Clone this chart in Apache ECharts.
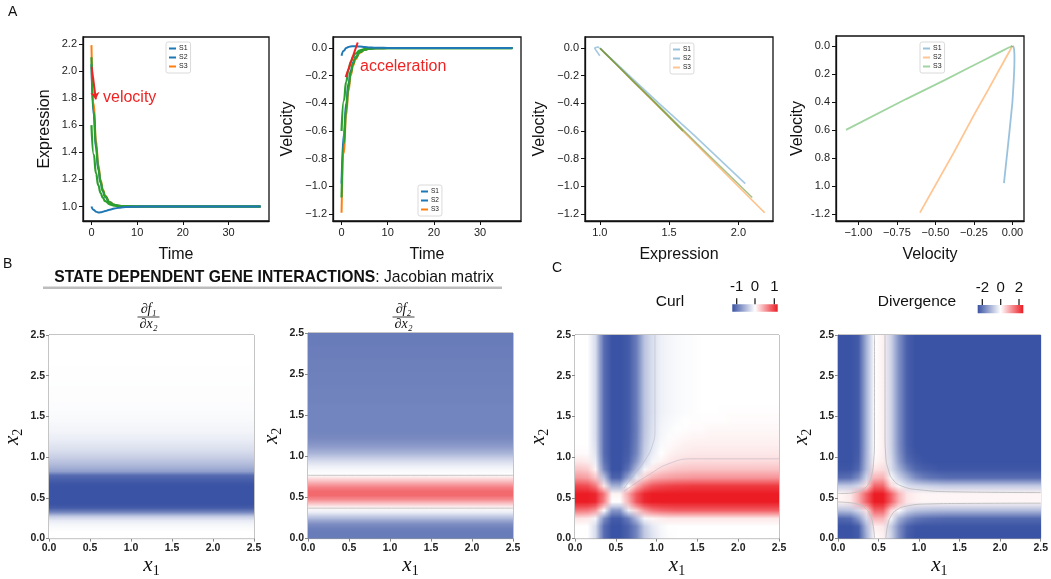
<!DOCTYPE html>
<html>
<head>
<meta charset="utf-8">
<script src="https://cdn.jsdelivr.net/npm/echarts@6/dist/echarts.min.js"></script>
<style>
  html, body { margin: 0; padding: 0; background: #fff; }
  #chart { width: 1051px; height: 579px; }
</style>
</head>
<body>
<div id="chart"></div>
<script>
// ---- panel A : trajectories ----
const legendNames = ['S1', 'S2', 'S3']
const timePts = [0, 0.5, 1, 1.5, 2, 2.5, 3, 4, 5, 6, 7, 8, 10, 12, 15, 20, 25, 30, 37]

const exprS1 = [1.0, 0.975, 0.962, 0.956, 0.957, 0.961, 0.966, 0.976, 0.985, 0.991, 0.995, 0.997, 0.999, 1.0, 1.0, 1.0, 1.0, 1.0, 1.0]
const exprS2 = [2.05, 1.67, 1.427, 1.272, 1.174, 1.111, 1.07, 1.029, 1.012, 1.005, 1.002, 1.001, 1.0, 1.0, 1.0, 1.0, 1.0, 1.0, 1.0]
const exprS3 = [2.19, 1.76, 1.484, 1.309, 1.197, 1.126, 1.08, 1.033, 1.013, 1.005, 1.002, 1.001, 1.0, 1.0, 1.0, 1.0, 1.0, 1.0, 1.0]
const exprG1 = [2.1, 1.7, 1.447, 1.285, 1.182, 1.116, 1.074, 1.03, 1.012, 1.005, 1.002, 1.001, 1.0, 1.0, 1.0, 1.0, 1.0, 1.0, 1.0]
const exprG2 = [1.6, 1.383, 1.244, 1.156, 1.099, 1.063, 1.04, 1.016, 1.007, 1.003, 1.001, 1.0, 1.0, 1.0, 1.0, 1.0, 1.0, 1.0, 1.0]

const velS1 = [-0.055, -0.02, 0.0, 0.008, 0.012, 0.013, 0.013, 0.011, 0.008, 0.005, 0.003, 0.002, 0.001, 0, 0, 0, 0, 0, 0]
const velS2 = [-0.98, -0.62, -0.4, -0.255, -0.163, -0.104, -0.066, -0.027, -0.011, -0.004, -0.002, -0.001, 0, 0, 0, 0, 0, 0, 0]
const velS3 = [-1.19, -0.76, -0.484, -0.309, -0.197, -0.126, -0.08, -0.033, -0.013, -0.005, -0.002, -0.001, 0, 0, 0, 0, 0, 0, 0]
const velG1 = [-1.08, -0.69, -0.44, -0.28, -0.18, -0.115, -0.073, -0.03, -0.012, -0.005, -0.002, -0.001, 0, 0, 0, 0, 0, 0, 0]
const velG2 = [-0.6, -0.38, -0.245, -0.155, -0.099, -0.063, -0.04, -0.016, -0.007, -0.003, -0.001, 0, 0, 0, 0, 0, 0, 0, 0]

const velocityArrow = [[0.05, 2.03], [0.95, 1.79]]
const accelLine = [[0.9, -0.21], [3.5, 0.04]]

const timeTicks = [0, 10, 20, 30]
const exprTicks = [1.0, 1.2, 1.4, 1.6, 1.8, 2.0, 2.2]
const phaseExprTicks = [1.0, 1.5, 2.0]
const velTicks = [-1.2, -1.0, -0.8, -0.6, -0.4, -0.2, 0.0]
const velVelXTicks = [-1.0, -0.75, -0.5, -0.25, 0.0]
const velVelYLabels = ['-1.2', '1.0', '0.8', '0.6', '0.4', '0.2', '0.0']

// ---- panel B : Jacobian entries (profiles along x2, from 0.025 up by 0.05) ----
const jacF1X2 = [0, 0, -0.02, -0.05, -0.12, -0.32, -0.7, -0.93, -1, -1,
  -1, -1, -1, -0.98, -0.93, -0.86, -0.56, -0.46, -0.38, -0.31,
  -0.25, -0.2, -0.16, -0.13, -0.1, -0.08, -0.06, -0.05, -0.04, -0.03,
  -0.025, -0.02, -0.015, -0.01, -0.01, -0.01, -0.01, -0.008, -0.006, -0.005,
  -0.004, -0.003, -0.002, -0.002, -0.001, -0.001, 0, 0, 0, 0]
const jacF2X2 = [-0.76, -0.76, -0.74, -0.66, -0.5, -0.28, -0.08, 0.03, 0.25, 0.5,
  0.66, 0.66, 0.55, 0.38, 0.18, 0.0, -0.03, -0.08, -0.17, -0.28,
  -0.4, -0.5, -0.58, -0.64, -0.68, -0.7, -0.71, -0.71, -0.71, -0.71,
  -0.71, -0.71, -0.71, -0.72, -0.72, -0.72, -0.72, -0.73, -0.73, -0.73,
  -0.73, -0.74, -0.74, -0.74, -0.75, -0.75, -0.75, -0.76, -0.76, -0.76]
const jacF2X2Contours = [[[0, 0.77], [2.5, 0.77]], [[0, 0.37], [2.5, 0.37]]]

// ---- panel C : curl and divergence, rows from x2 = 2.45 (top) to 0.05, columns x1 = 0.05 .. 2.45 ----
const curlRows = [
  [0, 0, -0.2, -0.85, -1, -1, -0.95, -0.75, -0.35, -0.18, -0.08, -0.05, -0.03, -0.02, -0.01, 0, 0, 0, 0, 0, 0, 0, 0, 0, 0],
  [0, 0, -0.2, -0.85, -1, -1, -0.95, -0.75, -0.35, -0.18, -0.08, -0.05, -0.03, -0.02, -0.01, 0, 0, 0, 0, 0, 0, 0, 0, 0, 0],
  [0, 0, -0.2, -0.85, -1, -1, -0.95, -0.75, -0.35, -0.18, -0.08, -0.05, -0.03, -0.02, -0.01, 0, 0, 0, 0, 0, 0, 0, 0, 0, 0],
  [0, 0, -0.2, -0.85, -1, -1, -0.95, -0.75, -0.35, -0.18, -0.08, -0.05, -0.03, -0.02, -0.01, 0, 0, 0, 0, 0, 0, 0, 0, 0, 0],
  [0, 0, -0.2, -0.85, -1, -1, -0.95, -0.75, -0.35, -0.18, -0.08, -0.05, -0.03, -0.02, -0.01, 0, 0, 0, 0, 0, 0, 0, 0, 0, 0],
  [0, 0, -0.2, -0.85, -1, -1, -0.95, -0.75, -0.35, -0.18, -0.08, -0.05, -0.03, -0.02, -0.01, 0, 0, 0, 0, 0, 0, 0, 0, 0, 0],
  [0, 0, -0.2, -0.85, -1, -1, -0.95, -0.75, -0.35, -0.18, -0.08, -0.05, -0.03, -0.02, -0.01, 0, 0, 0, 0, 0, 0, 0, 0, 0, 0],
  [0, 0, -0.2, -0.85, -1, -1, -0.95, -0.75, -0.35, -0.18, -0.08, -0.05, -0.03, -0.02, -0.01, 0, 0, 0, 0, 0, 0, 0, 0, 0, 0],
  [0, 0, -0.2, -0.85, -1, -1, -0.95, -0.75, -0.35, -0.18, -0.08, -0.05, -0.03, -0.02, -0.01, 0, 0, 0, 0, 0, 0, 0, 0, 0, 0],
  [0, 0, -0.2, -0.85, -1, -1, -0.95, -0.75, -0.35, -0.18, -0.08, -0.05, -0.03, -0.02, -0.01, 0, 0, 0, 0.01, 0.01, 0.01, 0.01, 0.01, 0.01, 0.01],
  [0, 0, -0.2, -0.85, -1, -1, -0.95, -0.75, -0.35, -0.17, -0.07, -0.04, -0.02, 0, 0.01, 0.01, 0.01, 0.01, 0.01, 0.02, 0.02, 0.02, 0.02, 0.02, 0.02],
  [0, 0, -0.2, -0.85, -1, -1, -0.95, -0.75, -0.34, -0.16, -0.06, -0.03, 0, 0.01, 0.02, 0.02, 0.03, 0.03, 0.03, 0.03, 0.03, 0.03, 0.03, 0.03, 0.03],
  [0, 0, -0.2, -0.85, -1, -1, -0.95, -0.74, -0.33, -0.15, -0.05, -0.01, 0.02, 0.03, 0.04, 0.04, 0.05, 0.05, 0.05, 0.05, 0.05, 0.05, 0.05, 0.05, 0.05],
  [0, 0, -0.18, -0.85, -1, -1, -0.94, -0.72, -0.31, -0.13, -0.03, 0.02, 0.04, 0.06, 0.07, 0.07, 0.07, 0.07, 0.07, 0.07, 0.07, 0.07, 0.07, 0.07, 0.07],
  [0.02, 0.02, -0.15, -0.85, -1, -1, -0.93, -0.7, -0.28, -0.1, 0, 0.05, 0.08, 0.09, 0.1, 0.1, 0.1, 0.1, 0.1, 0.1, 0.1, 0.1, 0.1, 0.1, 0.1],
  [0.1, 0.08, -0.1, -0.8, -1, -1, -0.9, -0.6, -0.22, -0.04, 0.05, 0.1, 0.13, 0.15, 0.16, 0.16, 0.16, 0.16, 0.16, 0.16, 0.16, 0.16, 0.16, 0.16, 0.16],
  [0.25, 0.22, 0.05, -0.7, -1, -1, -0.8, -0.4, -0.05, 0.1, 0.18, 0.22, 0.25, 0.26, 0.27, 0.27, 0.27, 0.27, 0.27, 0.27, 0.27, 0.27, 0.27, 0.27, 0.27],
  [0.45, 0.42, 0.25, -0.35, -0.9, -0.9, -0.5, -0.12, 0.2, 0.35, 0.4, 0.43, 0.45, 0.46, 0.47, 0.47, 0.47, 0.47, 0.47, 0.47, 0.47, 0.47, 0.47, 0.47, 0.47],
  [0.8, 0.78, 0.6, 0.1, -0.45, -0.45, 0, 0.35, 0.6, 0.75, 0.8, 0.83, 0.85, 0.86, 0.87, 0.87, 0.87, 0.87, 0.87, 0.87, 0.87, 0.87, 0.87, 0.87, 0.87],
  [1, 1, 0.95, 0.6, 0.05, 0.05, 0.4, 0.75, 0.95, 1, 1, 1, 1, 1, 1, 1, 1, 1, 1, 1, 1, 1, 1, 1, 1],
  [1, 1, 0.95, 0.55, 0, 0, 0.35, 0.75, 0.95, 1, 1, 1, 1, 1, 1, 1, 1, 1, 1, 1, 1, 1, 1, 1, 1],
  [0.6, 0.58, 0.45, 0, -0.6, -0.6, -0.1, 0.2, 0.45, 0.6, 0.65, 0.68, 0.7, 0.7, 0.7, 0.7, 0.7, 0.7, 0.7, 0.7, 0.7, 0.7, 0.7, 0.7, 0.7],
  [0.12, 0.1, -0.05, -0.65, -0.95, -0.95, -0.75, -0.4, -0.05, 0.05, 0.08, 0.1, 0.1, 0.1, 0.1, 0.1, 0.1, 0.1, 0.1, 0.1, 0.1, 0.1, 0.1, 0.1, 0.1],
  [0, 0, -0.2, -0.85, -1, -1, -0.9, -0.7, -0.3, -0.12, -0.04, 0, 0, 0, 0, 0, 0, 0, 0, 0, 0, 0, 0, 0, 0],
  [0, 0, -0.2, -0.85, -1, -1, -0.9, -0.7, -0.32, -0.15, -0.05, -0.01, 0, 0, 0, 0, 0, 0, 0, 0, 0, 0, 0, 0, 0]
]
const divRows = [
  [-2, -2, -1.9, -0.9, 0, 0.12, -0.5, -1.3, -1.85, -2, -2, -2, -2, -2, -2, -2, -2, -2, -2, -2, -2, -2, -2, -2, -2],
  [-2, -2, -1.9, -0.9, 0, 0.12, -0.5, -1.3, -1.85, -2, -2, -2, -2, -2, -2, -2, -2, -2, -2, -2, -2, -2, -2, -2, -2],
  [-2, -2, -1.9, -0.9, 0, 0.12, -0.5, -1.3, -1.85, -2, -2, -2, -2, -2, -2, -2, -2, -2, -2, -2, -2, -2, -2, -2, -2],
  [-2, -2, -1.9, -0.9, 0, 0.12, -0.5, -1.3, -1.85, -2, -2, -2, -2, -2, -2, -2, -2, -2, -2, -2, -2, -2, -2, -2, -2],
  [-2, -2, -1.9, -0.9, 0, 0.12, -0.5, -1.3, -1.85, -2, -2, -2, -2, -2, -2, -2, -2, -2, -2, -2, -2, -2, -2, -2, -2],
  [-2, -2, -1.9, -0.9, 0, 0.12, -0.5, -1.3, -1.85, -2, -2, -2, -2, -2, -2, -2, -2, -2, -2, -2, -2, -2, -2, -2, -2],
  [-2, -2, -1.9, -0.9, 0, 0.12, -0.5, -1.3, -1.85, -2, -2, -2, -2, -2, -2, -2, -2, -2, -2, -2, -2, -2, -2, -2, -2],
  [-2, -2, -1.9, -0.9, 0, 0.12, -0.5, -1.3, -1.85, -2, -2, -2, -2, -2, -2, -2, -2, -2, -2, -2, -2, -2, -2, -2, -2],
  [-2, -2, -1.9, -0.9, 0, 0.12, -0.5, -1.3, -1.85, -2, -2, -2, -2, -2, -2, -2, -2, -2, -2, -2, -2, -2, -2, -2, -2],
  [-2, -2, -1.9, -0.9, 0, 0.12, -0.5, -1.3, -1.85, -2, -2, -2, -2, -2, -2, -2, -2, -2, -2, -2, -2, -2, -2, -2, -2],
  [-2, -2, -1.9, -0.9, 0, 0.12, -0.5, -1.3, -1.85, -2, -2, -2, -2, -2, -2, -2, -2, -2, -2, -2, -2, -2, -2, -2, -2],
  [-2, -2, -1.9, -0.9, 0, 0.12, -0.5, -1.3, -1.85, -2, -2, -2, -2, -2, -2, -2, -2, -2, -2, -2, -2, -2, -2, -2, -2],
  [-2, -2, -1.9, -0.9, 0, 0.12, -0.5, -1.3, -1.85, -2, -2, -2, -2, -2, -2, -2, -2, -2, -2, -2, -2, -2, -2, -2, -2],
  [-2, -2, -1.9, -0.9, 0, 0.12, -0.5, -1.3, -1.85, -2, -2, -2, -2, -2, -2, -2, -2, -2, -2, -2, -2, -2, -2, -2, -2],
  [-2, -2, -1.88, -0.88, 0.02, 0.14, -0.47, -1.25, -1.8, -1.97, -2, -2, -2, -2, -2, -2, -2, -2, -2, -2, -2, -2, -2, -2, -2],
  [-2, -2, -1.85, -0.85, 0.07, 0.17, -0.4, -1.15, -1.7, -1.9, -1.97, -2, -2, -2, -2, -2, -2, -2, -2, -2, -2, -2, -2, -2, -2],
  [-1.95, -1.95, -1.75, -0.8, 0.25, 0.32, -0.35, -0.9, -1.4, -1.75, -1.85, -1.9, -1.95, -1.95, -1.95, -1.95, -1.95, -1.95, -1.95, -1.95, -1.95, -1.95, -1.95, -1.95, -1.95],
  [-1.7, -1.65, -1.3, -0.5, 0.65, 0.7, -0.05, -0.5, -0.9, -1.3, -1.5, -1.6, -1.65, -1.7, -1.7, -1.7, -1.7, -1.7, -1.7, -1.7, -1.7, -1.7, -1.7, -1.7, -1.7],
  [-0.6, -0.6, -0.45, 0.3, 1.35, 1.35, 0.35, -0.05, -0.35, -0.45, -0.5, -0.55, -0.58, -0.6, -0.6, -0.6, -0.6, -0.6, -0.6, -0.6, -0.6, -0.6, -0.6, -0.6, -0.6],
  [0.1, 0.2, 0.7, 1.4, 2, 2, 1.4, 0.65, 0.22, 0.12, 0.08, 0.08, 0.08, 0.08, 0.08, 0.08, 0.08, 0.08, 0.08, 0.08, 0.08, 0.08, 0.08, 0.08, 0.08],
  [0.1, 0.2, 0.7, 1.4, 2, 2, 1.4, 0.65, 0.22, 0.12, 0.08, 0.08, 0.08, 0.08, 0.08, 0.08, 0.08, 0.08, 0.08, 0.08, 0.08, 0.08, 0.08, 0.08, 0.08],
  [-0.75, -0.7, -0.45, 0.3, 1.35, 1.35, 0.35, -0.05, -0.5, -0.7, -0.75, -0.78, -0.8, -0.8, -0.8, -0.8, -0.8, -0.8, -0.8, -0.8, -0.8, -0.8, -0.8, -0.8, -0.8],
  [-1.75, -1.7, -1.2, -0.45, 0.65, 0.65, -0.1, -0.9, -1.3, -1.55, -1.65, -1.7, -1.72, -1.75, -1.75, -1.75, -1.75, -1.75, -1.75, -1.75, -1.75, -1.75, -1.75, -1.75, -1.75],
  [-2, -2, -1.85, -0.8, 0.15, 0.2, -0.55, -1.3, -1.8, -1.95, -1.97, -1.97, -1.97, -1.97, -1.97, -1.97, -1.97, -1.97, -1.97, -1.97, -1.97, -1.97, -1.97, -1.97, -1.97],
  [-2, -2, -1.9, -0.9, 0.05, 0.12, -0.5, -1.3, -1.85, -2, -2, -2, -2, -2, -2, -2, -2, -2, -2, -2, -2, -2, -2, -2, -2]
]
const curlContours = [
  [[0.98, 2.5], [0.98, 1.35], [0.95, 1.15], [0.85, 0.95], [0.72, 0.78], [0.6, 0.62]],
  [[2.5, 0.98], [1.45, 0.98], [1.15, 0.92], [0.9, 0.78], [0.7, 0.65], [0.6, 0.58]]
]
const divContours = [
  [[0.45, 2.5], [0.45, 1.2], [0.44, 0.95], [0.42, 0.8], [0.38, 0.68], [0.3, 0.6], [0.2, 0.565], [0.1, 0.555], [0, 0.553]],
  [[0.58, 2.5], [0.58, 1.3], [0.59, 1.0], [0.62, 0.85], [0.68, 0.72], [0.8, 0.64], [1.0, 0.6], [1.4, 0.575], [2.5, 0.565]],
  [[0, 0.45], [0.15, 0.44], [0.25, 0.42], [0.33, 0.38], [0.39, 0.3], [0.43, 0.18], [0.45, 0]],
  [[0.59, 0], [0.61, 0.15], [0.65, 0.27], [0.72, 0.35], [0.85, 0.4], [1.1, 0.425], [1.6, 0.432], [2.5, 0.435]]
]
const fieldTicks = [0, 0.5, 1.0, 1.5, 2.0, 2.5]
const fieldYLabels = ['0.0', '0.5', '1.0', '1.5', '2.5', '2.5']

// ---- styling ----
const FONT = 'Liberation Sans'
const MATH = 'Liberation Serif'
const BLUE = '#1f77b4', ORANGE = '#ff7f0e', GREEN = '#2ca02c', RED = '#ee2424'
const CMAP = ['#3a53a4', '#ffffff', '#ec1c24']
const CMAP_RGB = [[58, 83, 164], [255, 255, 255], [236, 28, 36]]

const topGrids = [
  { left: 83, top: 37, width: 186, height: 184 },
  { left: 333, top: 37, width: 188, height: 184 },
  { left: 585, top: 37, width: 188, height: 184 },
  { left: 836, top: 36, width: 188, height: 185 }
]
const fieldGrids = [
  { left: 49, top: 335, width: 205, height: 206 },
  { left: 308, top: 333, width: 205, height: 206 },
  { left: 575, top: 335, width: 204, height: 205 },
  { left: 838, top: 335, width: 204, height: 206 }
]

const zipXY = (xs, ys) => xs.map((x, i) => [x, ys[i]])
const fixed = d => v => (v < 0 ? '\u2212' : '') + Math.abs(v).toFixed(d)
const pick = (ticks, labels) => v => labels[ticks.findIndex(t => Math.abs(t - v) < 1e-9)]

function topAxis(gridIndex, min, max, ticks, fmt, name, gap) {
  return {
    type: 'value', gridIndex, min, max, name, nameLocation: 'middle', nameGap: gap,
    nameTextStyle: { fontFamily: FONT, fontSize: 16, color: '#111' },
    axisLine: { show: true, onZero: false, lineStyle: { color: '#111', width: 1.3 } },
    axisTick: { show: true, length: 4, customValues: ticks, lineStyle: { color: '#111' } },
    axisLabel: { customValues: ticks, formatter: fmt, fontFamily: FONT, fontSize: 11, color: '#222', margin: 6 },
    splitLine: { show: false }
  }
}

function fieldAxis(gridIndex, isY) {
  const sub = isY ? '2' : '1'
  return {
    type: 'value', gridIndex, min: 0, max: 2.5,
    name: '{v|x}{s|' + sub + '}', nameLocation: 'middle', nameGap: isY ? 24 : 12,
    nameTextStyle: {
      rich: {
        v: { fontFamily: MATH, fontStyle: 'italic', fontSize: 21, color: '#111' },
        s: { fontFamily: MATH, fontSize: 14, color: '#111', padding: [12, 0, 0, 0] }
      }
    },
    axisLine: { show: true, onZero: false, lineStyle: { color: '#999', width: 1 } },
    axisTick: { show: true, length: 3, customValues: fieldTicks, lineStyle: { color: '#888' } },
    axisLabel: {
      customValues: fieldTicks, formatter: isY ? pick(fieldTicks, fieldYLabels) : fixed(1),
      fontFamily: FONT, fontWeight: 'bold', fontSize: 10.5, color: '#222', margin: 4
    },
    splitLine: { show: false }
  }
}

const series = []
const add = s => { series.push(s); return series.length - 1 }

function traj(gi, name, data, color, opacity, width, smooth) {
  return add({
    type: 'line', name, xAxisIndex: gi, yAxisIndex: gi, data,
    showSymbol: false, symbol: 'none', smooth, smoothMonotone: smooth ? 'x' : undefined,
    lineStyle: { color, opacity, width }, itemStyle: { color }, z: 3, silent: true
  })
}

// A1: expression over time
traj(0, 'S3', zipXY(timePts, exprS3), ORANGE, 1, 2, true)
traj(0, 'S2', zipXY(timePts, exprS2), BLUE, 1, 2, true)
traj(0, 'g1', zipXY(timePts, exprG1), GREEN, 1, 2.2, true)
traj(0, 'g2', zipXY(timePts, exprG2), GREEN, 1, 2.2, true)
traj(0, 'S1', zipXY(timePts, exprS1), BLUE, 1, 2, true)
// A2: velocity over time
traj(1, 'S3', zipXY(timePts, velS3), ORANGE, 1, 2, true)
traj(1, 'S2', zipXY(timePts, velS2), BLUE, 1, 2, true)
traj(1, 'g1', zipXY(timePts, velG1), GREEN, 1, 2.2, true)
traj(1, 'g2', zipXY(timePts, velG2), GREEN, 1, 2.2, true)
traj(1, 'S1', zipXY(timePts, velS1), BLUE, 1, 2, true)
// A3: velocity against expression
traj(2, 'S3', zipXY(exprS3, velS3), ORANGE, 0.5, 1.6, false)
traj(2, 'S2', zipXY(exprS2, velS2), BLUE, 0.4, 1.6, false)
traj(2, 'g1', zipXY(exprG1, velG1), '#6f9a3a', 0.6, 1.6, false)
traj(2, 'g2', zipXY(exprG2, velG2), '#6f9a3a', 0.6, 1.6, false)
traj(2, 'S1', zipXY(exprS1, velS1), BLUE, 0.4, 1.6, false)
// A4: velocity against velocity
traj(3, 'S1', zipXY(velS1, velS2), BLUE, 0.45, 1.8, false)
traj(3, 'S2', zipXY(velG2, velS3), ORANGE, 0.45, 1.8, false)
traj(3, 'S3', zipXY(velG1, velG2), GREEN, 0.45, 1.8, false)

// red annotations
add({ type: 'lines', coordinateSystem: 'cartesian2d', xAxisIndex: 0, yAxisIndex: 0, z: 5, silent: true,
  symbol: ['none', 'arrow'], symbolSize: 7, lineStyle: { color: RED, width: 2, opacity: 1 },
  data: [{ coords: velocityArrow }] })
add({ type: 'lines', coordinateSystem: 'cartesian2d', xAxisIndex: 1, yAxisIndex: 1, z: 5, silent: true,
  lineStyle: { color: RED, width: 2, opacity: 1 }, data: [{ coords: accelLine }] })

// field panels: the cell values are painted one pixel per cell and stretched over the plot
// (smooth shading like imshow), placed through the axes' own coordinates
function colorOf(v, vmin, vmax) {
  const t = Math.min(1, Math.max(0, (v - vmin) / (vmax - vmin))) * 2
  const k = t < 1 ? 0 : 1, f = t - k
  return CMAP_RGB[k].map((c, i) => Math.round(c + (CMAP_RGB[k + 1][i] - c) * f))
}
function fieldCanvas(rows, vmin, vmax) {
  const h = rows.length, w = rows[0].length
  const cv = document.createElement('canvas')
  cv.width = w; cv.height = h
  const ctx = cv.getContext('2d')
  const img = ctx.createImageData(w, h)
  rows.forEach((row, r) => row.forEach((v, c) => {
    const rgb = colorOf(v, vmin, vmax), k = 4 * (r * w + c)
    img.data[k] = rgb[0]; img.data[k + 1] = rgb[1]; img.data[k + 2] = rgb[2]; img.data[k + 3] = 255
  }))
  ctx.putImageData(img, 0, 0)
  return cv
}
const profileRows = prof => prof.slice().reverse().map(v => [v])

function fieldSeries(gi, canvas) {
  const lo = fieldTicks[0], hi = fieldTicks[fieldTicks.length - 1]
  return add({
    type: 'custom', xAxisIndex: 4 + gi, yAxisIndex: 4 + gi, data: [[lo, lo, hi, hi]],
    encode: { x: [0, 2], y: [1, 3] }, clip: true, silent: true, z: 1,
    renderItem(params, api) {
      const p0 = api.coord([api.value(0), api.value(3)])
      const p1 = api.coord([api.value(2), api.value(1)])
      return {
        type: 'image',
        style: { image: canvas, x: p0[0], y: p0[1], width: p1[0] - p0[0], height: p1[1] - p0[1] }
      }
    }
  })
}
function contourSeries(gi, lines, color) {
  lines.forEach(pts => add({
    type: 'line', xAxisIndex: 4 + gi, yAxisIndex: 4 + gi, data: pts, showSymbol: false, symbol: 'none',
    smooth: true, silent: true, z: 3, lineStyle: { color, width: 1 }
  }))
}

fieldSeries(0, fieldCanvas(profileRows(jacF1X2), -1, 1))
fieldSeries(1, fieldCanvas(profileRows(jacF2X2), -1, 1))
contourSeries(1, jacF2X2Contours, '#c4c4c4')
fieldSeries(2, fieldCanvas(curlRows, -1, 1))
contourSeries(2, curlContours, 'rgba(170,170,190,0.45)')
fieldSeries(3, fieldCanvas(divRows, -2, 2))
contourSeries(3, divContours, '#c2c2c2')

function mkLegend(left, top, colors, opacity, fs) {
  return {
    left, top, orient: 'vertical', icon: 'rect', itemWidth: 7, itemHeight: 2, itemGap: 2,
    padding: [3, 3, 3, 3], borderColor: '#d0d0d0', borderWidth: 0.8, borderRadius: 2,
    backgroundColor: 'rgba(255,255,255,0.85)', selectedMode: false,
    textStyle: { fontSize: fs, fontFamily: FONT, color: '#222', padding: [0, 0, 0, -2] },
    data: legendNames.map((n, i) => ({ name: n, itemStyle: { color: colors[i], opacity } }))
  }
}

function colorbar(x0, y0, w, h, zeroPos, tickXs, labels) {
  const els = [{
    type: 'rect', shape: { x: x0, y: y0, width: w, height: h },
    style: {
      fill: new echarts.graphic.LinearGradient(0, 0, 1, 0, [
        { offset: 0, color: CMAP[0] }, { offset: zeroPos, color: CMAP[1] }, { offset: 1, color: CMAP[2] }
      ])
    }
  }]
  tickXs.forEach((tx, i) => {
    els.push({ type: 'line', shape: { x1: tx, y1: y0 - 6, x2: tx, y2: y0 }, style: { stroke: '#111', lineWidth: 1.2 } })
    els.push({ type: 'text', x: tx, y: y0 - 17, style: { text: labels[i], fill: '#111', font: '15px ' + FONT, align: 'center', verticalAlign: 'middle' } })
  })
  return els
}

function fraction(cx, num, den) {
  return [
    { type: 'text', x: cx, y: 309.5, style: { text: num, fill: '#111', font: 'italic 14px ' + MATH, align: 'center', verticalAlign: 'middle' } },
    { type: 'line', shape: { x1: cx - 11, y1: 317, x2: cx + 11, y2: 317 }, style: { stroke: '#111', lineWidth: 0.8 } },
    { type: 'text', x: cx, y: 324, style: { text: den, fill: '#111', font: 'italic 14px ' + MATH, align: 'center', verticalAlign: 'middle' } }
  ]
}

const graphic = [
  { type: 'text', x: 8, y: 12, style: { text: 'A', fill: '#111', font: '14px ' + FONT, verticalAlign: 'middle' } },
  { type: 'text', x: 3, y: 264, style: { text: 'B', fill: '#111', font: '14px ' + FONT, verticalAlign: 'middle' } },
  { type: 'text', x: 552, y: 268.5, style: { text: 'C', fill: '#111', font: '14px ' + FONT, verticalAlign: 'middle' } },
  { type: 'text', x: 103, y: 98, style: { text: 'velocity', fill: RED, font: '16px ' + FONT, verticalAlign: 'middle' } },
  { type: 'text', x: 360, y: 67, style: { text: 'acceleration', fill: RED, font: '16px ' + FONT, verticalAlign: 'middle' } },
  { type: 'text', x: 274, y: 278, style: {
    text: '{b|STATE DEPENDENT GENE INTERACTIONS}{r|: Jacobian matrix}', align: 'center', verticalAlign: 'middle',
    rich: { b: { fontFamily: FONT, fontWeight: 'bold', fontSize: 15.7, fill: '#111' }, r: { fontFamily: FONT, fontSize: 15.7, fill: '#111' } }
  } },
  { type: 'rect', shape: { x: 43, y: 286.5, width: 459, height: 2.5 }, style: { fill: '#bdbdbd' } },
  ...fraction(148.5, '\u2202f\u2081', '\u2202x\u2082'),
  ...fraction(403.5, '\u2202f\u2082', '\u2202x\u2082'),
  { type: 'text', x: 670, y: 302, style: { text: 'Curl', fill: '#111', font: '15.5px ' + FONT, align: 'center', verticalAlign: 'middle' } },
  ...colorbar(732.3, 304.3, 45.4, 7.4, 0.5, [736.7, 755, 774.3], ['-1', '0', '1']),
  { type: 'text', x: 917, y: 302, style: { text: 'Divergence', fill: '#111', font: '15.5px ' + FONT, align: 'center', verticalAlign: 'middle' } },
  ...colorbar(977.7, 305, 45.6, 8.3, 0.504, [982.3, 1000.7, 1019], ['-2', '0', '2'])
]

const option = {
  animation: false,
  backgroundColor: '#ffffff',
  textStyle: { fontFamily: FONT },
  grid: [
    ...topGrids.map(g => ({ ...g, show: true, borderColor: '#111', borderWidth: 1.3, backgroundColor: 'transparent' })),
    ...fieldGrids.map(g => ({ ...g, show: true, borderColor: '#8a8a8a', borderWidth: 1, backgroundColor: 'transparent' }))
  ],
  xAxis: [
    topAxis(0, -1.85, 38.85, timeTicks, v => String(v), 'Time', 26),
    topAxis(1, -1.85, 38.85, timeTicks, v => String(v), 'Time', 26),
    topAxis(2, 0.893, 2.25, phaseExprTicks, fixed(1), 'Expression', 26),
    topAxis(3, -1.145, 0.075, velVelXTicks, fixed(2), 'Velocity', 26),
    fieldAxis(4, false), fieldAxis(5, false), fieldAxis(6, false), fieldAxis(7, false)
  ],
  yAxis: [
    topAxis(0, 0.893, 2.25, exprTicks, fixed(1), 'Expression', 30),
    topAxis(1, -1.25, 0.08, velTicks, fixed(1), 'Velocity', 37),
    topAxis(2, -1.25, 0.08, velTicks, fixed(1), 'Velocity', 37),
    topAxis(3, -1.25, 0.07, velTicks, pick(velTicks, velVelYLabels), 'Velocity', 30),
    fieldAxis(4, true), fieldAxis(5, true), fieldAxis(6, true), fieldAxis(7, true)
  ],
  legend: [
    mkLegend(166, 42, [BLUE, BLUE, ORANGE], 1, 7),
    mkLegend(418, 185, [BLUE, BLUE, ORANGE], 1, 6.5),
    mkLegend(670, 43, [BLUE, BLUE, ORANGE], 0.45, 6.5),
    mkLegend(920, 42, [BLUE, ORANGE, GREEN], 0.45, 7)
  ],
  graphic,
  series
}

const chart = echarts.init(document.getElementById('chart'), null, { renderer: 'canvas' })
chart.setOption(option)
</script>
</body>
</html>
